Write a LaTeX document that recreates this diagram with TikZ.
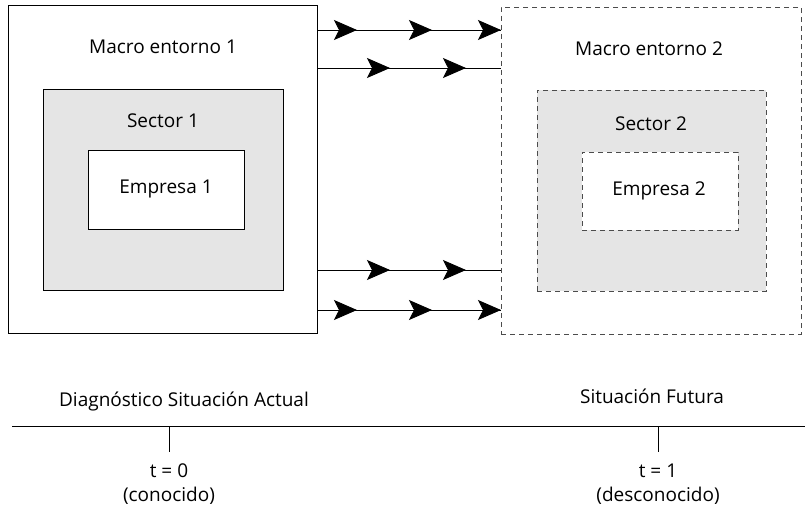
\documentclass[tikz,border=0pt]{standalone}
\usepackage{fontspec}
\setmainfont{Open Sans}
\usetikzlibrary{arrows.meta,decorations.markings}
\tikzset{
	box/.style={draw, line width=0.9pt, inner sep=0pt},
	dbox/.style={box, draw=black!70, dash pattern=on 5pt off 4pt},
	lbl/.style={font=\fontsize{19}{22}\selectfont},
	flowa/.style={line width=0.9pt, postaction={decorate}, decoration={markings,
		mark=at position 40pt with {\arrow{Stealth[length=23pt, width=20pt, inset=5pt]}},
		mark=at position 115pt with {\arrow{Stealth[length=23pt, width=20pt, inset=5pt]}},
		mark=at position 1 with {\arrow{Stealth[length=23pt, width=20pt, inset=5pt]}}}},
	flowb/.style={line width=0.9pt, postaction={decorate}, decoration={markings,
		mark=at position 73pt with {\arrow{Stealth[length=23pt, width=20pt, inset=5pt]}},
		mark=at position 149pt with {\arrow{Stealth[length=23pt, width=20pt, inset=5pt]}}}}
}
\begin{document}
\begin{tikzpicture}[x=1pt,y=-1pt]
		\useasboundingbox (0,0) rectangle (805,514);
		
		% situacion actual
		\node[box, minimum width=309, minimum height=328] (m1) at (162.5,169) {};
		\node[box, fill=black!10, minimum width=240, minimum height=201] (s1) at (163,189.5) {};
		\node[box, fill=white, minimum width=156, minimum height=79] (e1) at (166,189.5) {};
		\node[lbl] (tm1) at (163,47) {Macro entorno 1};
		\node[lbl] (ts1) at (163,121) {Sector 1};
		\node[lbl] (te1) at (166,189) {Empresa 1};
		
		% situacion futura
		\node[dbox, minimum width=300, minimum height=327] (m2) at (651,170.5) {};
		\node[dbox, fill=black!10, minimum width=229, minimum height=201] (s2) at (651.5,190.5) {};
		\node[dbox, fill=white, minimum width=156, minimum height=78] (e2) at (660,191) {};
		\node[lbl] (tm2) at (649,49) {Macro entorno 2};
		\node[lbl] (ts2) at (651,124) {Sector 2};
		\node[lbl] (te2) at (659,191) {Empresa 2};
		
		% flechas
		\coordinate (a1) at (317,30);  \coordinate (b1) at (501,30);
		\coordinate (a2) at (317,68);  \coordinate (b2) at (501,68);
		\coordinate (a3) at (317,270); \coordinate (b3) at (501,270);
		\coordinate (a4) at (317,310); \coordinate (b4) at (501,310);
		\draw[flowa] (a1) -- (b1);
		\draw[flowb] (a2) -- (b2);
		\draw[flowb] (a3) -- (b3);
		\draw[flowa] (a4) -- (b4);
		
		% eje de tiempo
		\coordinate (l0) at (12,426);
		\coordinate (l1) at (805,426);
		\draw[line width=0.9pt] (l0) -- (l1);
		\coordinate (k0) at (169,426);
		\coordinate (k1) at (658,426);
		\node[lbl] (t0) at (169,471) {t = 0};
		\node[lbl] (c0) at (169,496) {(conocido)};
		\node[lbl] (t1) at (658,471) {t = 1};
		\node[lbl] (c1) at (658,496) {(desconocido)};
		\draw[line width=0.6pt] (k0) -- ++(0,26);
		\draw[line width=0.6pt] (k1) -- ++(0,26);
		\node[lbl] (d0) at (184,401) {Diagnóstico Situación Actual};
		\node[lbl] (d1) at (652,396) {Situación Futura};
	\end{tikzpicture}
\end{document}
